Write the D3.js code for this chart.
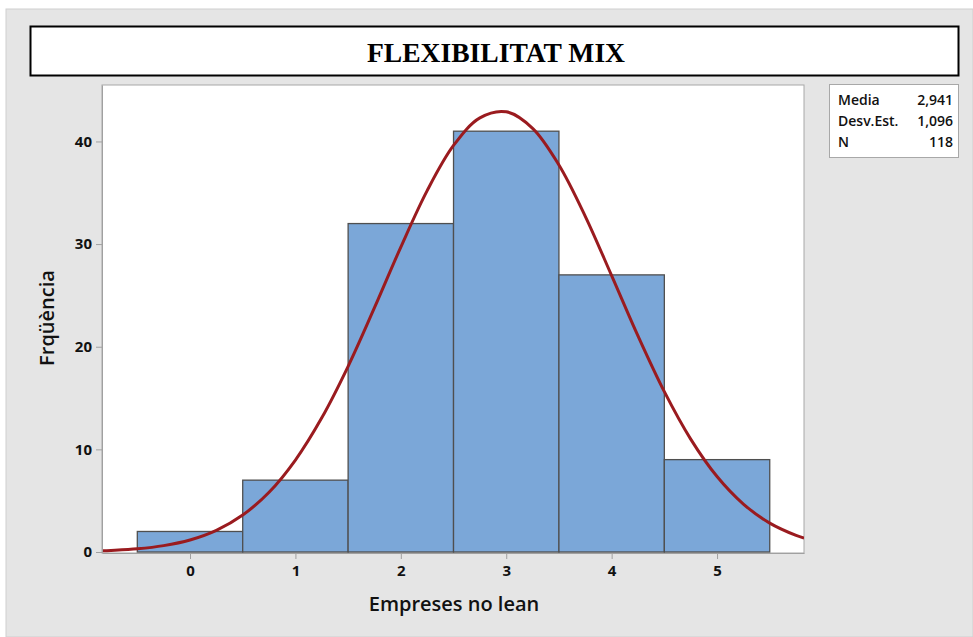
<!DOCTYPE html>
<html><head><meta charset="utf-8">
<script src="https://cdn.jsdelivr.net/npm/d3@7"></script>
<style>body{margin:0;background:#fff}svg{display:block}</style>
</head><body>
<script>
// Data
const categories = [0, 1, 2, 3, 4, 5];
const counts = [2, 7, 32, 41, 27, 9];
const yTicks = [0, 10, 20, 30, 40];
const statLabels = ["Media", "Desv.Est.", "N"];
const statValues = ["2,941", "1,096", "118"];
// Fitted normal curve
const curveX = [-0.835,-0.75,-0.5,-0.25,0,0.25,0.5,0.75,1,1.25,1.5,1.75,2,2.25,2.5,2.75,3,3.25,3.5,3.75,4,4.25,4.5,4.75,5,5.25,5.5,5.75,5.825];
const curveY = [0.11,0.15,0.31,0.62,1.17,2.11,3.6,5.82,8.96,13.07,18.09,23.8,29.71,35.21,39.61,42.3,42.89,41.28,37.71,32.71,26.93,21.05,15.62,11.0,7.35,4.67,2.81,1.61,1.35];

const W = 973, H = 637;
const svg = d3.select("body").append("svg").attr("width", W).attr("height", H);

svg.append("rect").attr("x", 6).attr("y", 9).attr("width", W - 6).attr("height", H - 9)
  .attr("fill", "#e5e5e5").attr("stroke", "#cfcfcf");

// Title box
svg.append("rect").attr("x", 30.5).attr("y", 26.5).attr("width", 928).attr("height", 49)
  .attr("fill", "#fff").attr("stroke", "#000").attr("stroke-width", 2);
svg.append("text").attr("x", 496).attr("y", 62).attr("text-anchor", "middle")
  .attr("font-family", "'Liberation Serif', 'Times New Roman', serif").attr("font-weight", "bold")
  .attr("font-size", 28).attr("textLength", 258).attr("lengthAdjust", "spacingAndGlyphs")
  .text("FLEXIBILITAT MIX");

const L = 102, T = 85, R = 804, B = 553;
const x = d3.scaleLinear().domain([-0.835, 5.825]).range([L, R]);
const y = d3.scaleLinear().domain([0, 45.5]).range([B - 1, T]);

svg.append("rect").attr("x", L).attr("y", T).attr("width", R - L).attr("height", B - T)
  .attr("fill", "#fff").attr("stroke", "#a8a8a8");

svg.append("clipPath").attr("id", "c").append("rect")
  .attr("x", L).attr("y", T).attr("width", R - L).attr("height", B - T);

// Bars
svg.append("g").selectAll("rect").data(categories).join("rect")
  .attr("x", (d) => x(d - 0.5)).attr("width", (d) => x(d + 0.5) - x(d - 0.5))
  .attr("y", (d, i) => y(counts[i])).attr("height", (d, i) => y(0) - y(counts[i]))
  .attr("fill", "#7ba7d8").attr("stroke", "#4f4f4f").attr("stroke-width", 1.3);

// Curve
const line = d3.line().x((d, i) => x(curveX[i])).y((d) => y(d)).curve(d3.curveCatmullRom);
svg.append("path").datum(curveY).attr("d", line).attr("clip-path", "url(#c)")
  .attr("fill", "none").attr("stroke", "#9a1b1f").attr("stroke-width", 3);

// Axes
const font = "'Open Sans', 'Noto Sans', sans-serif";
const yAxis = svg.append("g").attr("transform", `translate(${L},0)`)
  .call(d3.axisLeft(y).tickValues(yTicks).tickFormat(d3.format("d")).tickSize(6).tickSizeOuter(0).tickPadding(4));
const xAxis = svg.append("g").attr("transform", `translate(0,${B})`)
  .call(d3.axisBottom(x).tickValues(categories).tickFormat(d3.format("d")).tickSize(6).tickSizeOuter(0).tickPadding(6));
[yAxis, xAxis].forEach(a => {
  a.select(".domain").attr("stroke", "#a0a0a0");
  a.selectAll(".tick line").attr("stroke", "#a0a0a0");
  a.selectAll("text").attr("font-family", font).attr("font-weight", 700)
    .attr("font-size", 15).attr("fill", "#111");
});

svg.append("text").attr("x", 454).attr("y", 611).attr("text-anchor", "middle")
  .attr("font-family", font).attr("font-weight", 600).attr("font-size", 20)
  .attr("fill", "#111").text("Empreses no lean");
svg.append("text").attr("transform", "translate(54,318) rotate(-90)").attr("text-anchor", "middle")
  .attr("font-family", font).attr("font-weight", 600).attr("font-size", 20)
  .attr("fill", "#111").text("Frqüència");

// Stats box
svg.append("rect").attr("x", 829.5).attr("y", 84.5).attr("width", 129).attr("height", 73)
  .attr("fill", "#fff").attr("stroke", "#a8a8a8");
statLabels.forEach((s, i) => {
  svg.append("text").attr("x", 838).attr("y", 105 + i * 21).attr("font-family", font)
    .attr("font-weight", 600).attr("font-size", 14).attr("fill", "#111").text(s);
  svg.append("text").attr("x", 953).attr("y", 105 + i * 21).attr("text-anchor", "end")
    .attr("font-family", font).attr("font-weight", 600).attr("font-size", 14)
    .attr("fill", "#111").text(statValues[i]);
});
</script>
</body></html>
